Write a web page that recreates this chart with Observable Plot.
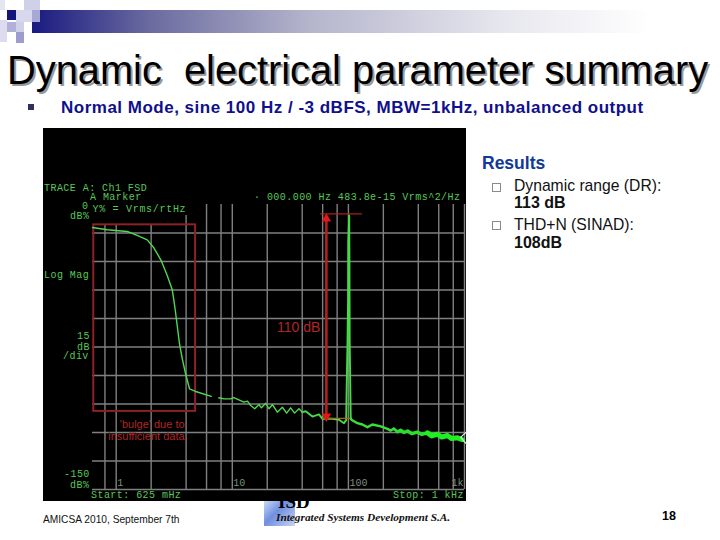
<!DOCTYPE html>
<html><head><meta charset="utf-8">
<script src="https://cdn.jsdelivr.net/npm/d3@7"></script>
<script src="https://cdn.jsdelivr.net/npm/@observablehq/plot@0.6"></script>
<style>
html,body{margin:0;padding:0;background:#fff;width:720px;height:540px;overflow:hidden}
#slide{position:relative;width:720px;height:540px;font-family:"Liberation Sans",Arial,sans-serif;overflow:hidden}
.a{position:absolute;white-space:pre;line-height:1}
.sq{position:absolute}
.t{position:absolute;white-space:pre;line-height:1;font-family:"Liberation Mono","DejaVu Sans Mono",monospace;font-size:10px;letter-spacing:.45px;color:#58c858}
#plot{position:absolute;left:0;top:0}
#plot svg{background:transparent!important;display:block}
</style></head><body>
<div id="slide"></div>
<script>
// Frequency grid of the analyzer (Hz), where each line starts at its top (dB), and level grid (dB)
const gridHz=[0.8,1,2,4,6,8,10,20,40,60,80,100,200,400,600,800,1000];
const gridTopDb=[-10.5,-10.5,-10.5,-5.8,0,0,0,0,0,0,0,0,0,0,0,0,0];
const gridDb=[-15,-30,-45,-60,-75,-90,-105,-120,-135,-150];
const tickHz=[1,10,100];
const tickLabels=["1","10","100"];
const lastTickHz=[1000];

// Spectrum trace
const lowHz=[0.625,0.836,1.244,1.517,1.85,2.11,2.44,2.75,3.04,3.14,3.23,3.31,3.51,3.71,3.96,4.28,4.83,6.59,7,7.66,8.47,9.67,10.3,12.6,13.5,14.4,15.6,17,17.8,19.4,20.7,22.2,24.4,27,29.4,31.8,34.4,37.5,40.1];
const lowDb=[-12.1,-13.3,-14.2,-16.2,-18.6,-22.8,-29.5,-37.4,-44.9,-50.5,-55.8,-61,-73.3,-81.2,-89.1,-97,-98.4,-101,null,-101.7,-102.3,-102.3,-101.6,-104,-103.5,-105.8,-107.5,-105.3,-107,-104.6,-107.5,-105.3,-109.3,-106.7,-109.8,-107,-109.8,-107.5,-109.3];
const peakHz=[40.1,42.9,49,55.8,59.7,72.8,83,91.6,94.8,95.7,96.7,98,99.4,99.8,101.6,102,102.6,103.8,104.7];
const peakDb=[-109.3,-108.8,-111.6,-110.5,-112.8,-112.8,-113.3,-115.1,-113.7,-113.7,-95.3,-76.8,-50.5,-20,-5.8,-24.2,-71.6,-95.3,-112.6];
const tailHz=[104.7,106.2,119.6,132,146,161,190,217,232,246,264];
const tailDb=[-112.6,-113.3,-115.1,-115.8,-117.2,-115.8,-116.8,-118.1,-119,-117.9,-119.6];
const midHz=[264,282,300,324,351,393,429,480];
const midDb=[-119.6,-118.8,-120,-119.2,-120.6,-119.8,-121,-120.2];
const highHz=[480,523,585,637,713,777,871,961];
const highDb=[-120.2,-121.8,-120.9,-122.4,-121.6,-123.2,-122.8,-123.8];
const markerHz=[1047,926,1047];
const markerDb=[-119.5,-122.6,-126.3];

// Annotation: box, measurement arrow
const boxHz=[0.641,4.83], boxDb=[-10.7,-108.9];
const arrowHz=64.6, arrowDb=[-6.5,-110.5];
const arrowTopHz=[57.7,130], arrowTopDb=-4.9;
const arrowBottomHz=[59.7,102], arrowBottomDb=-112.6;
const table=(xs,ys)=>xs.map((x,i)=>({x,y:ys[i]}));

const RED="#b02626";
const axisStyle={tickSize:0,tickPadding:-11,fill:"#7d8f7d",fontSize:10,fontFamily:"Liberation Mono",label:null};
const plot=Plot.plot({
  width:720,height:540,marginLeft:92,marginRight:256,marginTop:204,marginBottom:51,
  style:{background:"transparent"},
  x:{type:"log",domain:[0.625,1000]},
  y:{domain:[-150,0]},
  marks:[
    Plot.ruleY(gridDb,{stroke:"#808080",strokeWidth:1.4}),
    Plot.ruleX(table(gridHz,gridTopDb),{x:"x",y1:"y",y2:-150,stroke:"#808080",strokeWidth:1.4}),
    Plot.axisX({...axisStyle,ticks:tickHz,tickFormat:(d)=>tickLabels[tickHz.indexOf(d)],textAnchor:"start",dx:1}),
    Plot.axisX({...axisStyle,ticks:lastTickHz,tickFormat:()=>"1k",textAnchor:"end",dx:-1}),
    Plot.axisY({ticks:[],label:null,tickSize:0}),
    Plot.rect([0],{x1:boxHz[0],x2:boxHz[1],y1:boxDb[0],y2:boxDb[1],fill:"none",stroke:"#8c2226",strokeWidth:2}),
    Plot.line(table(lowHz,lowDb),{x:"x",y:"y",stroke:"#50d850",strokeWidth:1.4}),
    Plot.line(table(peakHz,peakDb),{x:"x",y:"y",stroke:"#44dc44",strokeWidth:1.9}),
    Plot.line(table(tailHz,tailDb),{x:"x",y:"y",stroke:"#38e038",strokeWidth:2.4}),
    Plot.line(table(midHz,midDb),{x:"x",y:"y",stroke:"#2ae02a",strokeWidth:3.4}),
    Plot.line(table(highHz,highDb),{x:"x",y:"y",stroke:"#1ff01f",strokeWidth:5}),
    Plot.line(table(markerHz,markerDb),{x:"x",y:"y",stroke:"#e8e8e8",strokeWidth:1.2,clip:false}),
    Plot.line(table(arrowTopHz,[arrowTopDb,arrowTopDb]),{x:"x",y:"y",stroke:"#a82020",strokeWidth:1.2}),
    Plot.line(table(arrowBottomHz,[arrowBottomDb,arrowBottomDb]),{x:"x",y:"y",stroke:"#b06020",strokeWidth:1.2}),
    Plot.ruleX([arrowHz],{y1:arrowDb[0],y2:arrowDb[1],stroke:"#b82020",strokeWidth:2.6}),
    Plot.dot([arrowHz],{x:d=>d,y:()=>arrowDb[0]-1,symbol:"triangle",r:3.6,fill:"#e01818",stroke:"none"}),
    Plot.dot([arrowHz],{x:d=>d,y:()=>arrowDb[1]-1,symbol:"triangle",r:3.6,rotate:180,fill:"#e01818",stroke:"none"}),
    Plot.text(["110 dB"],{x:37.3,y:-64.7,text:d=>d,fill:RED,fontSize:14,fontFamily:"Liberation Sans",textAnchor:"middle"}),
    Plot.text(["'bulge' due to"],{x:3.88,y:-115.6,text:d=>d,fill:RED,fontSize:11,fontFamily:"Liberation Sans",textAnchor:"end"}),
    Plot.text(["insufficient data"],{x:3.88,y:-122.2,text:d=>d,fill:RED,fontSize:11,fontFamily:"Liberation Sans",textAnchor:"end"})
  ]
});

const slide=document.getElementById("slide");
const add=(cls,css,txt)=>{const e=document.createElement("div");e.className=cls;e.style.cssText=css;if(txt!=null)e.textContent=txt;slide.appendChild(e);return e;};

// header decoration
add("sq","left:32px;top:10px;width:688px;height:23px;background:linear-gradient(90deg,#1a1a80 0%,#6a6aa0 17%,#b4b4cc 40%,#e6e6ee 68%,#ffffff 90%)");
[[0,0,5,10,"#e4e4f2"],[24,0,16,10,"#d0d0e8"],[7,10,9,10,"#14147a"],[16,10,16,12,"#d8d8ec"],[32,10,8,12,"#a8a8d4"],[0,20,7,22,"#dcdcee"],[7,22,9,10,"#b0b0d8"],[16,22,8,10,"#d0d0e8"],[16,32,8,11,"#9c9cd0"]]
 .forEach(([l,t,w,h,c])=>add("sq",`left:${l}px;top:${t}px;width:${w}px;height:${h}px;background:${c}`));

add("a","left:7px;top:51px;font-size:39.8px;color:#000;text-shadow:2px 2px 0 #9a9a9a","Dynamic  electrical parameter summary");
add("sq","left:28px;top:104px;width:6px;height:6px;background:#30305e");
add("a","left:61px;top:99px;font-size:17px;letter-spacing:.5px;font-weight:bold;color:#10108c","Normal Mode, sine 100 Hz / -3 dBFS, MBW=1kHz, unbalanced output");

// logo (sits behind the analyzer screen)
add("sq","left:264px;top:498px;width:31px;height:28px;background:linear-gradient(135deg,#d8e2f8 0%,#6f8fe0 45%,#c8d4f4 100%)");
add("a","left:278px;top:492px;font-size:19px;font-weight:bold;font-family:'Liberation Serif',serif;color:#000","ISD");
add("a","left:276px;top:512px;font-size:11.3px;font-weight:bold;font-style:italic;font-family:'Liberation Serif',serif;color:#111","Integrated Systems Development S.A.");

// analyzer screen
add("sq","left:43px;top:128px;width:423px;height:373px;background:#000");
slide.appendChild(Object.assign(document.createElement("div"),{id:"plot"}));
document.getElementById("plot").appendChild(plot);

// analyzer texts
const term=(x,yc,s)=>add("t",`left:${x}px;top:${yc-5}px`,s);
term(44,188.5,"TRACE A: Ch1 FSD");
term(90,198,"A Marker");
term(82,207,"0");
term(92.5,210,"Y% = Vrms/rtHz").style.letterSpacing=".7px";
term(70,217,"dB%");
term(44,275.5,"Log Mag");
term(77,337,"15");
term(77,347.5,"dB");
term(63,357,"/div");
term(64,475,"-150");
term(70,485.5,"dB%");
term(91,495.5,"Start: 625 mHz");
term(393,495.5,"Stop: 1 kHz");
term(254,198,"· 000.000 Hz 483.8e-15 Vrms^2/Hz");

// results
add("a","left:482px;top:155px;font-size:17.5px;font-weight:bold;color:#0f3a96","Results");
[187,225].forEach(y=>add("sq",`left:492px;top:${y-4}px;width:7px;height:7px;border:1px solid #8a8a8a`));
add("a","left:514px;top:178px;font-size:15.7px;color:#111","Dynamic range (DR):");
add("a","left:514px;top:195px;font-size:16px;font-weight:bold;color:#111","113 dB");
add("a","left:514px;top:217px;font-size:15.7px;color:#111","THD+N (SINAD):");
add("a","left:514px;top:235px;font-size:16px;font-weight:bold;color:#111","108dB");

// footer
add("a","left:43px;top:515px;font-size:10.2px;color:#111","AMICSA 2010, September 7th");
add("a","left:662px;top:510px;font-size:12.5px;font-weight:bold;color:#000","18");
</script>
</body></html>
